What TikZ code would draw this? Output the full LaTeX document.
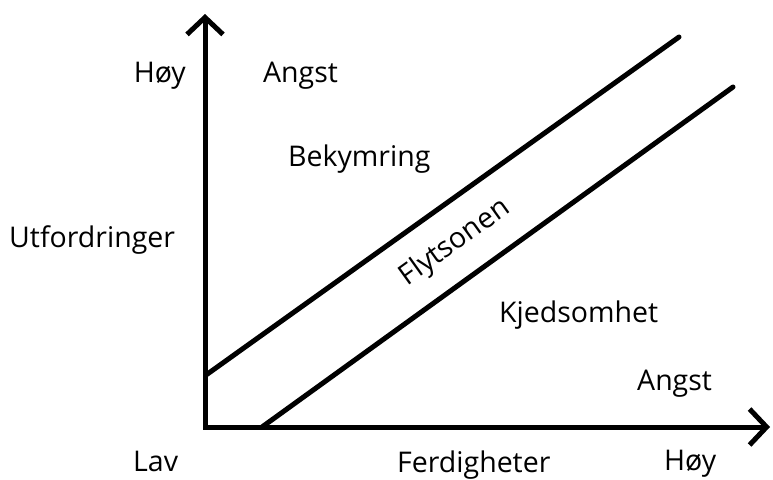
\documentclass[tikz,border=0pt]{standalone}
\usepackage{fontspec}
\setmainfont{Open Sans}
\usetikzlibrary{arrows.meta}
\begin{document}
\begin{tikzpicture}[x=1pt,y=-1pt,
  lbl/.style={inner sep=0pt, font=\fontsize{28.5}{34}\selectfont, text=black},
  axisline/.style={line width=5pt, line join=miter, {Straight Barb[length=17pt,width=36pt]}-{Straight Barb[length=17pt,width=36pt]}},
  diag/.style={line width=5pt, line cap=round}]
\useasboundingbox (0,0) rectangle (773,479);
\coordinate (ytop) at (205,14);
\coordinate (origin) at (205,427);
\coordinate (xend) at (770,427);
\draw[axisline] (ytop) -- (origin) -- (xend);
\coordinate (u1) at (206,375);
\coordinate (u2) at (679,37);
\coordinate (l1) at (262,427);
\coordinate (l2) at (733,87);
\draw[diag] (u1) -- (u2);
\draw[diag] (l1) -- (l2);
\node[lbl, anchor=base east] (hoyy) at (186,82) {Høy};
\node[lbl, anchor=base west] (angst1) at (263,82) {Angst};
\node[lbl, anchor=base west] (bek) at (288,166) {Bekymring};
\node[lbl, anchor=base west] (utf) at (9,247) {Utfordringer};
\node[lbl, anchor=center, rotate=35.7] (flyt) at (455,243) {Flytsonen};
\node[lbl, anchor=base west] (kjed) at (499,322) {Kjedsomhet};
\node[lbl, anchor=base west] (angst2) at (637,390) {Angst};
\node[lbl, anchor=base west] (lav) at (133,471) {Lav};
\node[lbl, anchor=base west] (ferd) at (397,472) {Ferdigheter};
\node[lbl, anchor=base west] (hoyx) at (664,470) {Høy};
\end{tikzpicture}
\end{document}
